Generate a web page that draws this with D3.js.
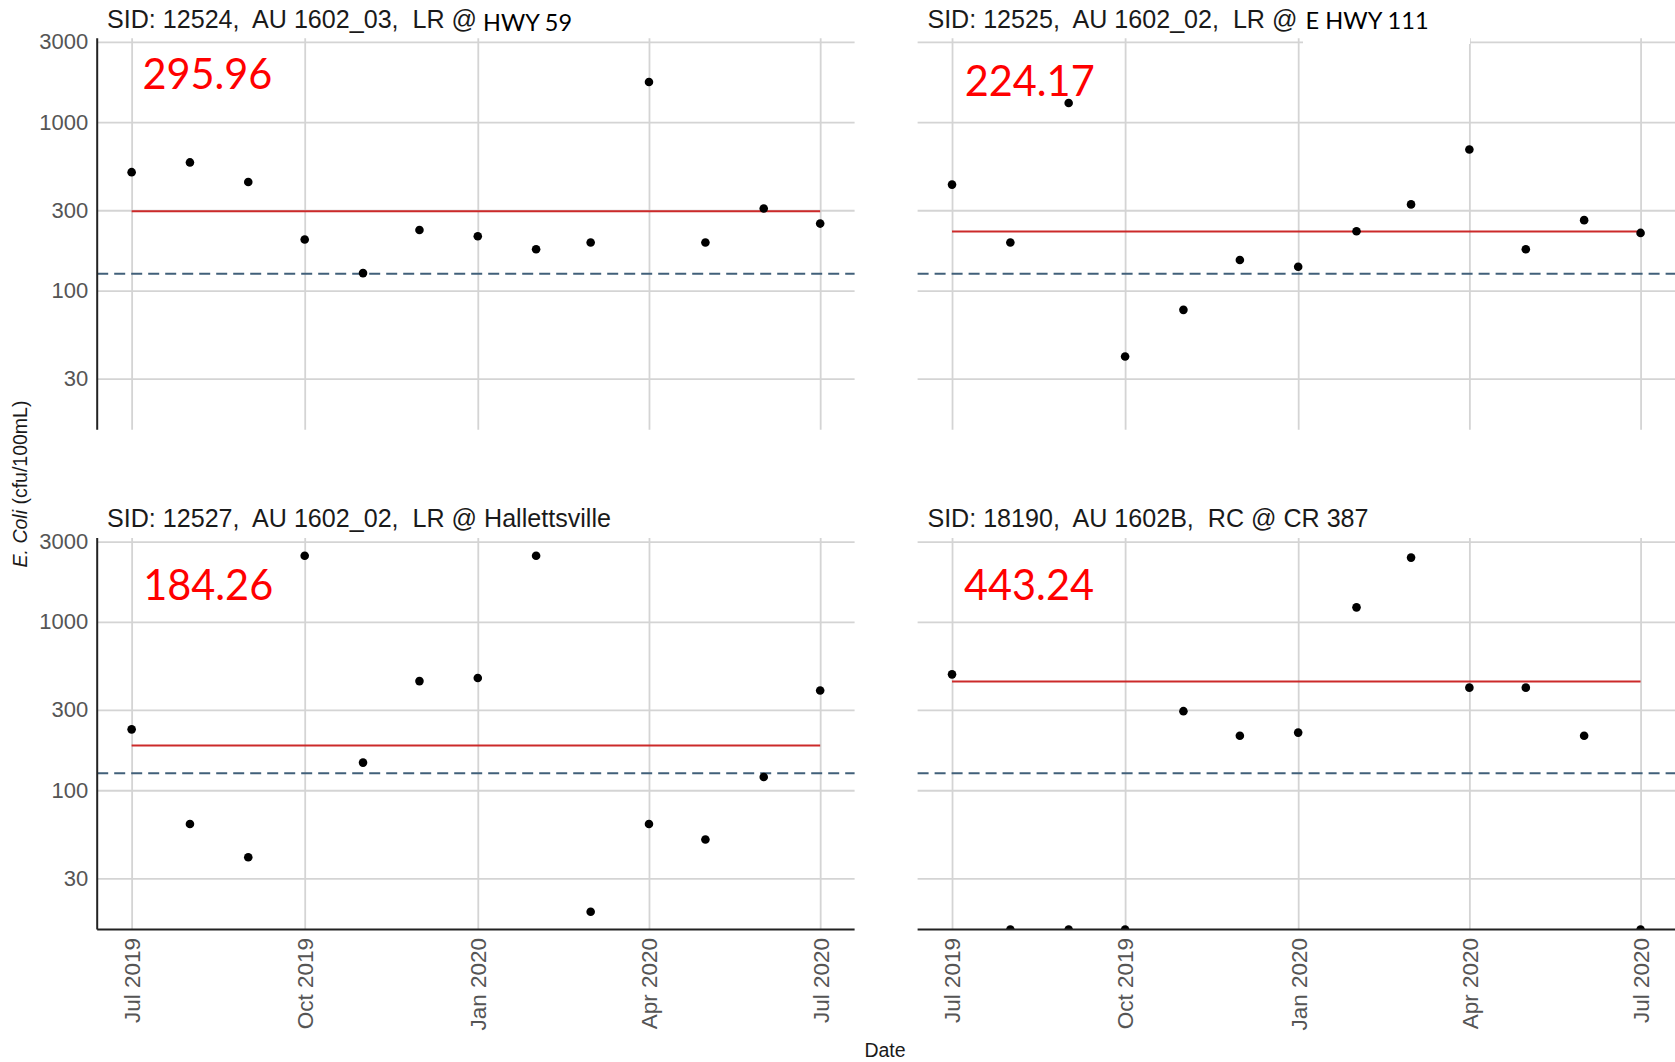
<!DOCTYPE html>
<html><head><meta charset="utf-8">
<script src="https://cdn.jsdelivr.net/npm/d3@7"></script>
<style>body{margin:0;background:#fff} svg{display:block}</style>
</head><body>
<script>
// ---------------- DATA ----------------
const sampleDates = ["2019-07-01","2019-08-01","2019-09-01","2019-10-01","2019-11-01","2019-12-01",
  "2020-01-01","2020-02-01","2020-03-01","2020-04-01","2020-05-01","2020-06-01","2020-07-01"];
const panelTitles = ["SID: 12524,  AU 1602_03,  LR @", "SID: 12525,  AU 1602_02,  LR @",
  "SID: 12527,  AU 1602_02,  LR @ Hallettsville", "SID: 18190,  AU 1602B,  RC @ CR 387"];
const titleAddenda = ["HWY 59", "E HWY 111", "", ""];
const geomeans = [295.96, 224.17, 184.26, 443.24];
const geomeanLabels = ["295.96", "224.17", "184.26", "443.24"];
const standardValue = 126;
// 0 = non-detect, drawn at the panel floor (log scale -Inf)
const ecoli12524 = [505, 577, 441, 201, 127, 229, 210, 176, 193, 1734, 193, 307, 250];
const ecoli12525 = [426, 193, 1301, 40.6, 76.8, 152, 138.5, 225, 325, 688, 176, 262, 220];
const ecoli12527 = [230, 63, 40, 2470, 146, 445, 464, 2470, 19, 63, 51, 120, 391];
const ecoli18190 = [488, 0, 0, 0, 295, 211, 220, 1220, 2410, 407, 407, 211, 0];
const yTickValues = [30, 100, 300, 1000, 3000];
const xTickDates = ["2019-07-01", "2019-10-01", "2020-01-01", "2020-04-01", "2020-07-01"];
const xTickLabels = ["Jul 2019", "Oct 2019", "Jan 2020", "Apr 2020", "Jul 2020"];
const yAxisTitleItalic = "E. Coli";
const yAxisTitleRest = " (cfu/100mL)";
const xAxisTitle = "Date";

// ---------------- LAYOUT ----------------
const W = 1675, H = 1062;
const panelW = 757.4, panelH = 391.5;
const panelX = [97.2, 917.6, 97.2, 917.6];
const panelY = [38.3, 38.3, 538, 538];
const labelOffsets = [[45.2, 50.3], [47.1, 57.6], [46, 61.5], [46.4, 61.5]];
const addendumPos = [[483, 30.7], [1305.6, 29.3]];
const addendumWidth = [89, 123];
const series = [ecoli12524, ecoli12525, ecoli12527, ecoli18190];

const svg = d3.select("body").append("svg").attr("width", W).attr("height", H)
  .style("font-family", "'Liberation Sans', Arial, sans-serif");
svg.append("rect").attr("width", W).attr("height", H).attr("fill", "#fff");

const parse = d3.utcParse("%Y-%m-%d");
const dates = sampleDates.map(parse);
const [d0, d1] = d3.extent(dates);
const xpad = (d1 - d0) * 0.05;
const x = d3.scaleUtc().domain([new Date(+d0 - xpad), new Date(+d1 + xpad)]).range([0, panelW]);
const positives = series.flat().filter(v => v > 0);
const [lo, hi] = d3.extent(positives).map(Math.log10);
const ypad = (hi - lo) * 0.05;
const y = d3.scaleLog().domain([10 ** (lo - ypad), 10 ** (hi + ypad)]).range([panelH, 0]);

const gridColor = "#d4d4d4";

series.forEach((vals, i) => {
  const g = svg.append("g").attr("transform", `translate(${panelX[i]},${panelY[i]})`);
  const clipId = "clip" + i;
  g.append("clipPath").attr("id", clipId).append("rect")
    .attr("x", 0).attr("y", 0).attr("width", panelW).attr("height", panelH);

  // horizontal grid
  const gy = g.append("g").call(d3.axisLeft(y).tickValues(yTickValues).tickSize(-panelW).tickFormat(""));
  gy.select(".domain").remove();
  gy.selectAll("line").attr("stroke", gridColor).attr("stroke-width", 1.8);
  // vertical grid
  const gx = g.append("g").attr("transform", `translate(0,${panelH})`)
    .call(d3.axisBottom(x).tickValues(xTickDates.map(parse)).tickSize(-panelH).tickFormat(""));
  gx.select(".domain").remove();
  gx.selectAll("line").attr("stroke", gridColor).attr("stroke-width", 1.8);

  // standard (dashed)
  g.append("line").attr("x1", 0).attr("x2", panelW)
    .attr("y1", y(standardValue)).attr("y2", y(standardValue))
    .attr("stroke", "#41607a").attr("stroke-width", 2).attr("stroke-dasharray", "11,6");
  // geomean (red)
  g.append("line").attr("x1", x(d0)).attr("x2", x(d1))
    .attr("y1", y(geomeans[i])).attr("y2", y(geomeans[i]))
    .attr("stroke", "#cc2a2a").attr("stroke-width", 2);

  // points
  g.append("g").attr("clip-path", `url(#${clipId})`).selectAll("circle")
    .data(vals.map((v, k) => ({ d: dates[k], v })))
    .join("circle")
    .attr("cx", p => x(p.d))
    .attr("cy", p => p.v > 0 ? y(p.v) : panelH)
    .attr("r", 4.3).attr("fill", "#000");

  const isLeft = i % 2 === 0, isBottom = i >= 2;
  if (isLeft) {
    g.append("line").attr("x1", 0).attr("x2", 0).attr("y1", 0).attr("y2", panelH)
      .attr("stroke", "#222").attr("stroke-width", 2);
    const ay = g.append("g").call(d3.axisLeft(y).tickValues(yTickValues).tickSize(0).tickPadding(9)
      .tickFormat(d3.format("d")));
    ay.select(".domain").remove();
    ay.attr("font-family", null).attr("font-size", null);
    ay.selectAll("text").attr("fill", "#555").style("font-size", "22px")
      .style("font-family", "'Liberation Sans', Arial, sans-serif");
  }
  if (isBottom) {
    g.append("line").attr("x1", 0).attr("x2", panelW).attr("y1", panelH).attr("y2", panelH)
      .attr("stroke", "#222").attr("stroke-width", 2);
    const ax = g.append("g").attr("transform", `translate(0,${panelH})`)
      .call(d3.axisBottom(x).tickValues(xTickDates.map(parse)).tickSize(0)
        .tickFormat((d, k) => xTickLabels[k]));
    ax.select(".domain").remove();
    ax.attr("font-family", null).attr("font-size", null);
    ax.selectAll("text").attr("transform", "rotate(-90)").attr("x", -8.5).attr("y", 0)
      .attr("dy", "0.35em").attr("text-anchor", "end")
      .attr("fill", "#555").style("font-size", "22.5px")
      .style("font-family", "'Liberation Sans', Arial, sans-serif");
  }

  // panel title
  svg.append("text").attr("x", panelX[i] + 9.8).attr("y", panelY[i] - 10.6)
    .style("white-space", "pre").style("font-size", "25.1px").attr("fill", "#1a1a1a")
    .text(panelTitles[i]);

  // geomean label
  g.append("text").attr("x", labelOffsets[i][0]).attr("y", labelOffsets[i][1])
    .style("font-family", "Lato, 'Open Sans', sans-serif").style("font-size", "42px")
    .attr("fill", "#ff0000").attr("textLength", 130).attr("lengthAdjust", "spacingAndGlyphs")
    .text(geomeanLabels[i]);
});

// overlaid station name pieces
titleAddenda.forEach((t, i) => {
  if (!t) return;
  if (i === 1) {
    svg.append("rect").attr("x", 1303).attr("y", 0).attr("width", 167).attr("height", 44).attr("fill", "#fff");
  }
  svg.append("text").attr("x", addendumPos[i][0]).attr("y", addendumPos[i][1])
    .style("font-family", "Lato, 'Open Sans', sans-serif").style("font-size", "23.5px")
    .attr("fill", "#000").attr("textLength", addendumWidth[i]).attr("lengthAdjust", "spacingAndGlyphs")
    .text(t);
});

// axis titles
const yt = svg.append("text").attr("transform", "translate(27,484) rotate(-90)")
  .attr("text-anchor", "middle").style("font-size", "19.5px").attr("fill", "#1a1a1a");
yt.append("tspan").style("font-style", "italic").text(yAxisTitleItalic);
yt.append("tspan").style("white-space", "pre").text(yAxisTitleRest);

svg.append("text").attr("x", 885).attr("y", 1056.7).attr("text-anchor", "middle")
  .style("font-size", "19.5px").attr("fill", "#1a1a1a").text(xAxisTitle);
</script>
</body></html>
